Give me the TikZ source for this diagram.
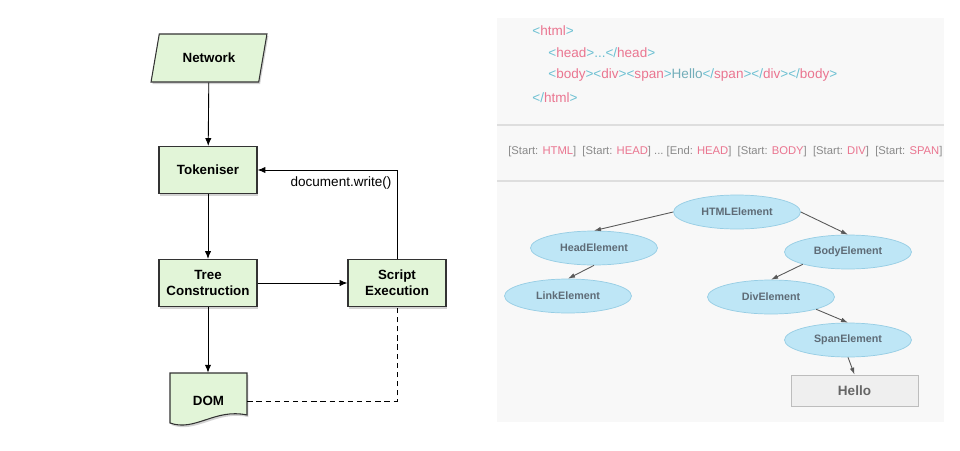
\documentclass[tikz,border=0pt]{standalone}
\usepackage{fontspec}
\setmainfont{Liberation Sans}
\usetikzlibrary{arrows.meta,calc,shapes.geometric,shadows}
\definecolor{flowfill}{HTML}{E2F5D8}
\definecolor{flowline}{HTML}{333333}
\definecolor{tagbr}{HTML}{6CC0D2}
\definecolor{tagnm}{HTML}{EA7590}
\definecolor{tokgray}{HTML}{8A8A8A}
\definecolor{elfill}{HTML}{BEE6F6}
\definecolor{elline}{HTML}{96CDE4}
\definecolor{eltext}{HTML}{5E6B76}
\definecolor{panel}{HTML}{F8F8F8}
\definecolor{sepline}{HTML}{DEDEDE}
\definecolor{hellof}{HTML}{EFEFEF}
\definecolor{hellol}{HTML}{BDBDBD}
\newcommand{\tg}[1]{\textcolor{tagbr}{<}\textcolor{tagnm}{#1}\textcolor{tagbr}{>}}
\newcommand{\ctg}[1]{\textcolor{tagbr}{</}\textcolor{tagnm}{#1}\textcolor{tagbr}{>}}
\newcommand{\tok}[2]{\textcolor{tokgray}{[#1: }\textcolor{tagnm}{#2}\textcolor{tokgray}{]}}
\tikzset{flow/.style={draw=flowline,line width=.6pt,fill=flowfill,drop shadow={shadow xshift=.8pt,shadow yshift=-1.2pt,opacity=.35}},
flowbox/.style={flow,font=\fontsize{7.6}{9}\selectfont\bfseries,align=center,inner sep=0pt,minimum width=1.96cm,minimum height=.94cm},
elem/.style={ellipse,draw=elline,fill=elfill,text=eltext,font=\fontsize{6.1}{7}\selectfont\bfseries,minimum width=2.54cm,minimum height=.68cm,inner sep=0pt},
arr/.style={-{Latex[length=4.5pt,width=3.6pt]},line width=.5pt},
tarr/.style={-{Latex[length=4pt,width=2.6pt]},line width=.5pt,draw=black!65},
code/.style={anchor=west,font=\fontsize{7.7}{9}\selectfont,inner sep=0pt}}
\begin{document}
\begin{tikzpicture}[x=.02cm,y=-.02cm]
\useasboundingbox(0,0)rectangle(960,450);
\node[flowbox,trapezium,trapezium left angle=66,trapezium right angle=114,trapezium stretches=true,minimum width=2.32cm,minimum height=.96cm](net)at(209,58){Network};
\node[flowbox](tok)at(208,170){Tokeniser};
\node[flowbox](tree)at(208,283){Tree\\Construction};
\node[flowbox](scr)at(397,283){Script\\Execution};
\path[flow](170,373)--(247,373)--(247,415)..controls(215,408)and(195,432)..(170,423)--cycle;
\node[font=\fontsize{7.6}{9}\selectfont\bfseries,inner sep=0pt,minimum width=1.54cm,minimum height=1.12cm](dom)at(208.5,401){DOM};
\draw[arr](net)--(tok);\draw[arr](tok)--(tree);\draw[arr](tree)--(scr);\draw[arr](tree.south)--(tree.south|-dom.north);
\draw[arr](scr.north)|-(tok.east);\node[font=\fontsize{7.7}{9}\selectfont](dw)at(341,183){document.write()};
\draw[dash pattern=on 3pt off 2.2pt,line width=.5pt](dom.east)-|(scr.south);
\fill[panel](497,18)rectangle(944,422);
\draw[sepline,line width=.8pt](497,125)--(944,125)(497,181)--(944,181);
\node[code](c1)at(532,31){\tg{html}};
\node[code](c2)at(548,53){\tg{head}\textcolor{tagbr}{...}\ctg{head}};
\node[code](c3)at(548,75){\tg{body}\tg{div}\tg{span}\textcolor{tagbr!70!gray}{Hello}\ctg{span}\ctg{div}\ctg{body}};
\node[code](c4)at(532,98){\ctg{html}};
\node[code,font=\fontsize{6.4}{8}\selectfont](toks)at(508,152){\tok{Start}{HTML}\ \ \tok{Start}{HEAD}\ \textcolor{tokgray}{...}\ \tok{End}{HEAD}\ \ \tok{Start}{BODY}\ \ \tok{Start}{DIV}\ \ \tok{Start}{SPAN}};
\node[elem](html)at(737,212){HTMLElement};\node[elem](head)at(594,248){HeadElement};\node[elem](body)at(848,252){BodyElement};
\node[elem](link)at(568,296){LinkElement};\node[elem](div)at(771,297){DivElement};\node[elem](span)at(848,340){SpanElement};
\node[draw=hellol,fill=hellof,text=black!60,font=\fontsize{7.7}{9}\selectfont\bfseries,minimum width=2.54cm,minimum height=.62cm,inner sep=0pt](hello)at(854.5,390.5){Hello};
\draw[tarr](html.west)--(head.north);\draw[tarr](html.east)--(body.north);\draw[tarr](head.south)--(link.north);\draw[tarr](body.south west)--(div.north);\draw[tarr](div.south east)--(span.north);\draw[tarr](span.south)--(hello.north);
\end{tikzpicture}
\end{document}
